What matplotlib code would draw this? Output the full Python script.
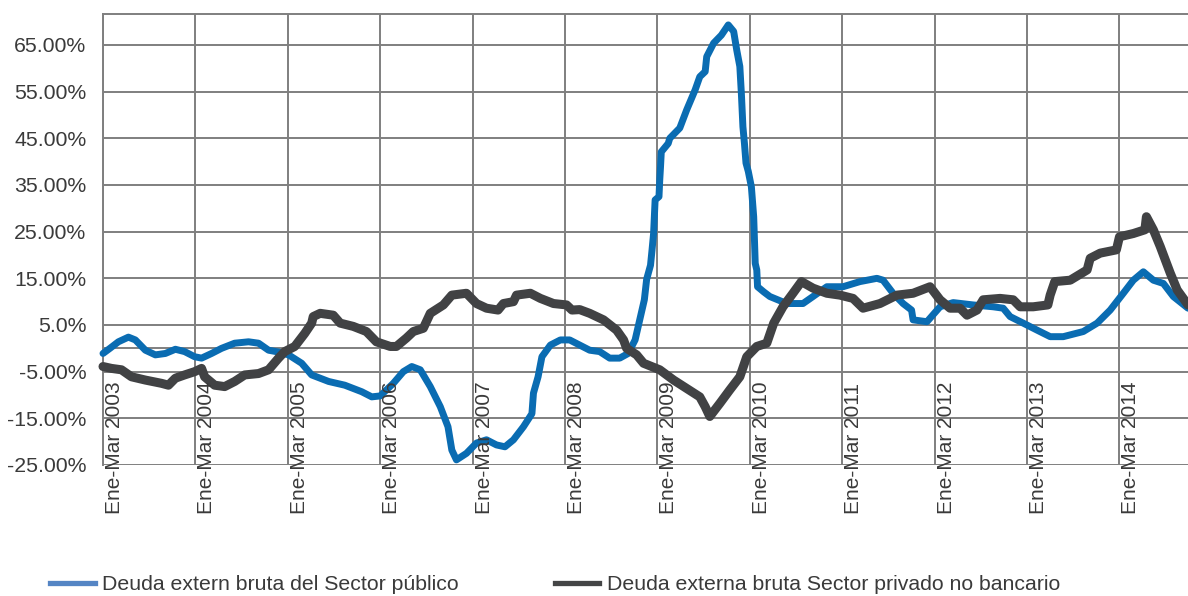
import matplotlib
matplotlib.use('Agg')
import matplotlib.pyplot as plt
from matplotlib.lines import Line2D
from matplotlib.transforms import blended_transform_factory

plt.rcParams['font.family'] = ['Liberation Sans', 'DejaVu Sans']

# ---- data ----
years = list(range(2003, 2015))
x_tick_labels = [f"Ene-Mar {y}" for y in years]
x_tick_pos = [12 * i for i in range(len(years))]   # months since Ene-Mar 2003

y_ticks = [-25, -15, -5, 5, 15, 25, 35, 45, 55, 65]
y_tick_labels = ["-25.00%", "-15.00%", "-5.00%", "5.0%", "15.00%",
                 "25.00%", "35.00%", "45.00%", "55.00%", "65.00%"]

series_names = ["Deuda extern bruta del Sector público",
                "Deuda externa bruta Sector privado no bancario"]

pub_months = [0, 0.9, 2.0, 3.3, 4.2, 5.5, 6.8, 8.1, 9.4, 10.6, 11.9, 12.8, 14.1,
              15.4, 17.1, 18.9, 20.2, 21.5, 22.8, 24.1, 25.8, 27.1, 29.3, 31.4,
              33.6, 34.9, 36.0, 37.7, 39.0, 40.1, 41.2, 42.5, 43.8, 44.8, 45.3,
              45.9, 47.2, 48.5, 49.8, 51.1, 52.2, 53.3, 54.6, 55.7, 55.9, 56.5,
              57.0, 58.1, 59.4, 60.6, 61.9, 63.2, 64.5, 65.8, 67.1, 68.2, 69.1,
              69.7, 70.3, 70.6, 71.1, 71.3, 71.5, 71.7, 72.2, 72.3, 72.4, 72.5,
              73.4, 73.6, 74.9, 75.8, 76.9, 77.5, 78.2, 78.4, 79.3, 80.3, 81.2,
              81.9, 82.3, 82.7, 82.9, 83.1, 83.3, 83.5, 83.8, 84.2, 84.5, 84.7,
              84.9, 85.0, 85.8, 86.6, 88.8, 90.9, 92.2, 94.0, 96.1, 98.3, 100.5,
              101.3, 102.6, 103.9, 105.0, 105.2, 107.0, 108.7, 110.4, 113.0,
              115.6, 116.9, 117.8, 119.5, 121.3, 123.0, 124.7, 127.3, 129.1,
              130.8, 132.5, 133.8, 135.1, 136.4, 137.7, 139.0, 140.9]
pub_values = [-1.1, 0.0, 1.4, 2.4, 1.8, -0.4, -1.4, -1.1, -0.2, -0.7, -1.8, -2.1, -1.1,
              0.0, 1.1, 1.4, 1.1, -0.4, -0.8, -1.4, -3.2, -5.7, -7.1, -7.9,
              -9.3, -10.4, -10.2, -7.5, -5.0, -3.9, -4.6, -8.2, -12.5, -16.8, -21.8,
              -23.9, -22.5, -20.3, -19.6, -20.7, -21.1, -19.6, -16.8, -14.0, -9.6, -6.1,
              -1.8, 0.7, 1.8, 1.8, 0.7, -0.4, -0.7, -2.1, -2.1, -1.1, 1.8,
              6.1, 10.4, 14.8, 17.8, 21.1, 24.6, 31.8, 32.5, 36.1, 38.9, 42.1,
              43.9, 45.0, 47.2, 51.1, 55.4, 58.2, 59.3, 62.5, 65.4, 67.1, 69.3,
              67.9, 63.9, 60.4, 54.6, 47.5, 43.9, 39.7, 37.9, 34.6, 28.2, 18.2,
              16.8, 13.2, 12.1, 11.1, 9.6, 9.6, 11.1, 13.2, 13.2, 14.3, 15.0,
              14.6, 11.8, 9.6, 8.2, 6.1, 5.7, 8.9, 9.8, 9.3,
              8.9, 8.6, 6.8, 5.4, 3.9, 2.5, 2.5, 3.6, 5.4,
              8.2, 11.8, 14.6, 16.4, 14.6, 13.9, 11.1, 8.6]

priv_months = [0, 1.1, 2.4, 3.7, 5.5, 7.6, 8.5, 9.4, 10.6, 11.9, 12.8, 13.2, 14.5,
               15.8, 17.1, 18.4, 20.2, 21.5, 22.8, 23.6, 24.9, 26.2, 27.1, 27.3,
               28.2, 29.9, 30.8, 32.5, 34.2, 35.5, 37.3, 38.1, 39.4, 40.3, 41.6,
               42.5, 44.2, 45.3, 47.2, 48.5, 49.8, 51.3, 52.0, 53.3, 53.7, 55.5,
               56.8, 58.5, 60.2, 60.9, 61.9, 63.2, 65.0, 66.7, 67.6, 68.0, 69.3,
               70.2, 72.3, 74.1, 75.8, 77.5, 78.2, 78.8, 80.1, 81.4, 82.7, 83.6,
               84.9, 86.2, 87.1, 88.3, 89.6, 90.7, 92.2, 94.0, 95.7, 97.4, 98.7,
               100.9, 103.1, 105.2, 106.3, 107.4, 108.7, 110.0, 111.3, 112.2,
               113.5, 114.3, 116.5, 118.2, 119.1, 120.8, 122.7, 123.0, 123.6,
               125.6, 127.8, 128.2, 129.5, 131.6, 132.0, 133.8, 135.3, 135.5,
               136.4, 137.3, 138.6, 139.5, 140.9]
priv_values = [-3.9, -4.3, -4.6, -6.1, -6.8, -7.5, -7.9, -6.4, -5.7, -5.0, -4.3, -6.1, -7.9,
               -8.2, -7.1, -5.7, -5.4, -4.6, -2.1, -0.7, 0.4, 3.2, 5.4, 6.8,
               7.5, 7.1, 5.4, 4.7, 3.6, 1.4, 0.4, 0.4, 2.2, 3.6, 4.3,
               7.5, 9.3, 11.4, 11.8, 9.6, 8.6, 8.2, 9.6, 10.0, 11.4, 11.8,
               10.7, 9.6, 9.3, 8.2, 8.3, 7.5, 6.1, 3.9, 1.8, 0.0, -1.4,
               -3.2, -4.6, -6.8, -8.6, -10.4, -12.5, -14.6, -11.8, -8.9, -6.1, -1.8,
               0.4, 1.1, 5.4, 8.9, 11.8, 14.3, 12.9, 11.8, 11.4, 10.7, 8.6,
               9.6, 11.4, 11.8, 12.5, 13.2, 10.4, 8.6, 8.6, 7.1,
               8.2, 10.4, 10.7, 10.4, 8.9, 8.9, 9.3, 11.4, 14.3,
               14.6, 16.8, 19.3, 20.4, 21.1, 23.9, 24.6, 25.4, 28.2,
               25.4, 21.8, 16.1, 12.5, 9.3]

# ---- style ----
W, H = 1188, 596
grid_color = '#7f7f7f'
text_color = '#3a3a3a'
blue = '#0a6cb2'
dark = '#414244'

fig = plt.figure(figsize=(W / 100, H / 100), dpi=100)
left_px, right_px, top_px, bottom_px = 103, 1188, 14, 465
ax = fig.add_axes([left_px / W, 1 - bottom_px / H,
                   (right_px - left_px) / W, (bottom_px - top_px) / H])

ax.set_xlim(0, 140.9)
ax.set_ylim(-25, 71.64)

# grid
for xp in x_tick_pos:
    ax.axvline(xp, color=grid_color, lw=1.4, zorder=1)
for yv in y_ticks + [0]:
    ax.axhline(yv, color=grid_color, lw=1.4, zorder=1)

for s in ['right', 'bottom']:
    ax.spines[s].set_visible(False)
for s in ['left', 'top']:
    ax.spines[s].set_color(grid_color)
    ax.spines[s].set_linewidth(1.4)

ax.plot(pub_months, pub_values, color=blue, lw=5.0, solid_joinstyle='round',
        solid_capstyle='round', zorder=3, clip_on=False)
ax.plot(priv_months, priv_values, color=dark, lw=6.5, solid_joinstyle='round',
        solid_capstyle='round', zorder=4, clip_on=False)

ax.set_yticks(y_ticks)
ax.set_yticklabels(y_tick_labels, fontsize=15.3, color=text_color)
ax.tick_params(axis='y', length=0, pad=12)
ax.set_xticks([])

# rotated category labels drawn inside the plot
tr = blended_transform_factory(ax.transData, fig.transFigure)
for xp, lab in zip(x_tick_pos, x_tick_labels):
    ax.text(xp + 0.25, 1 - 514 / H, lab, rotation=90, ha='left', va='bottom',
            fontsize=15, color=text_color, transform=tr, zorder=5)

# legend
handles = [Line2D([0], [0], color='#5585c4', lw=3.8),
           Line2D([0], [0], color='#444546', lw=3.8)]
fig.legend(handles, series_names, loc='center left',
           bbox_to_anchor=(50 / W, 1 - 585 / H), ncol=2, frameon=False,
           fontsize=15.3, handlelength=2.1, handletextpad=0.37,
           columnspacing=4.5, borderpad=0, borderaxespad=0,
           labelcolor=text_color)

fig.savefig('out.png', dpi=100)
